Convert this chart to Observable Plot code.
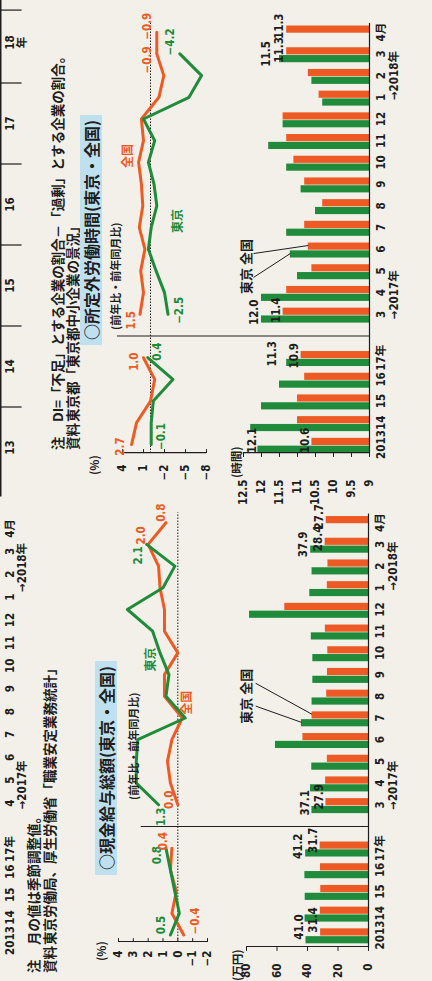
<!DOCTYPE html>
<html lang="ja"><head><meta charset="utf-8">
<script src="https://cdn.jsdelivr.net/npm/d3@7"></script>
<script src="https://cdn.jsdelivr.net/npm/@observablehq/plot@0.6"></script>
<style>
html,body{margin:0;padding:0;width:432px;height:981px;overflow:hidden;background:#f2f0e9;}
#page{position:absolute;left:0;top:0;width:981px;height:432px;transform-origin:0 0;transform:translate(0px,981px) rotate(-90deg);background:#f2f0e9;color:#1e1e1e;font-family:'Noto Sans CJK JP',sans-serif;}
#page svg{position:absolute;left:0;top:0;overflow:visible;}
.t{position:absolute;white-space:nowrap;line-height:1;font-weight:700;}
.note{font-size:13.5px;}
.title{font-size:16px;background:#bfe0ee;padding:3px 5px;}
.sub{font-size:11px;}
.unit{font-family:'Liberation Sans Narrow','Noto Sans CJK JP',sans-serif;font-size:11.5px;}
</style></head><body><div id="page"></div>
<script>
// ---------- data ----------
const catLabels = ["2013","14","15","16","17年","3","4","5","6","7","8","9","10","11","12","1","2","3","4月"];
const catSlots  = [0,1,2,3,4,6,7,8,9,10,11,12,13,14,15,16,17,18,19];
const eraLabels = ["→2017年","→2018年"];
const eraSlots  = [6.9,17];

// 現金給与総額 前年比・前年同月比 (%)
const wageRateTokyo   = [0.5,-0.1,0.2,0.5,0.8, 1.3,2.8,2.8,2.7,-0.5,0.8,0.6,1.2,1.7,3.4,1.0,0.2,2.1,null];
const wageRateZenkoku = [-0.4,0.4,0.1,0.5,0.4, 0.0,0.5,0.7,0.4,-0.3,0.9,0.9,0.0,0.9,0.9,1.2,1.3,2.0,0.8];
// 現金給与総額 (万円)
const wageTokyo   = [41.0,41.6,41.5,41.7,41.2, 37.1,38.0,37.2,61.0,44.0,37.0,36.5,36.5,37.5,78.0,38.5,37.0,37.9,null];
const wageZenkoku = [31.4,31.6,31.3,31.5,31.7, 27.9,28.1,27.0,43.0,37.0,27.4,26.9,26.7,28.3,54.9,27.0,26.6,28.4,27.7];
// 所定外労働時間 前年比・前年同月比 (%)
const otRateTokyo   = [-0.1,-0.1,-0.4,-3.2,0.4, -2.5,-2.0,-0.8,0.3,-0.1,-0.9,-0.5,0.3,-0.6,1.0,-5.5,-7.3,-4.2,null];
const otRateZenkoku = [2.7,2.0,0.0,-0.6,1.0, 1.5,1.0,1.4,0.8,1.6,1.1,1.3,1.7,1.0,1.3,-1.2,-1.9,-0.9,-0.9];
// 所定外労働時間 (時間)
const hoursTokyo   = [12.1,12.3,12.0,11.5,11.3, 12.0,12.0,11.0,11.2,11.3,10.5,10.9,11.3,11.8,11.4,10.3,10.6,11.5,null];
const hoursZenkoku = [10.6,11.0,11.0,10.8,10.9, 11.4,11.3,10.6,10.7,10.8,10.3,10.8,11.1,11.3,11.4,10.4,10.7,11.3,11.3];

// axis ticks
const ticksWageRate = [4,3,2,1,0,-1,-2];
const ticksWage = [80,60,40,20,0];
const ticksOtRate = [4,1,-2,-5,-8];
const ticksHours = [12.5,12,11.5,11,10.5,10,9.5,9];

// labels of the charts above (cut off)
const upperLabels = ["2013","14","15","16","17年","4","5","6","7","8","9","10","11","12","1","2","3","4月"];
const upperSlots  = [0,1,2,3,4,6,7,8,9,10,11,12,13,14,15,16,17,18];
const upperEra = ["→2017年","→2018年"];
const upperEraSlots = [6.8,16.3];
const diLabels = ["13","14","15","16","17","18"];
const diYears  = [2013,2014,2015,2016,2017,2018];

// ---------- helpers ----------
const G = "#1f8b3b", O = "#ee5a23", INK = "#1e1e1e";
const NUM = "'Liberation Sans Narrow','DejaVu Sans Condensed','Noto Sans CJK JP',sans-serif";
const JPF = "'Noto Sans CJK JP',sans-serif";
const page = document.getElementById("page");
const S = 21.7;
const xr = X0 => ({type:"linear", domain:[0,19], range:[X0, X0 + 19*S], axis:null});
const base = {width:981, height:432, margin:0, style:{background:"transparent", overflow:"visible", fontFamily:NUM}};
const fmt = d => d < 0 ? "−" + Math.abs(d) : String(d);
const fmt1 = d => d < 0 ? "−" + Math.abs(d).toFixed(1) : d.toFixed(1);
const rows = vals => vals.map((v,i) => ({s:catSlots[i], v, seg: i < 5 ? "a" : "m"})).filter(d => d.v != null);
const barRows = vals => vals.map((v,i) => ({s:catSlots[i], v})).filter(d => d.v != null);
const pick = (vals, specs) => specs.map(([i,dx,dy]) => ({s:catSlots[i], v:vals[i], dx, dy}));
function labelMarks(vals, specs, fill){
  return pick(vals, specs).map(d => Plot.text([d], {x:"s", y:"v", dx:d.dx, dy:d.dy, text:r=>fmt1(r.v), fill, fontWeight:700, fontSize:11.5, fontFamily:NUM}));
}
function add(el){ page.appendChild(el); }
function html(cls, txt, left, top, extra=""){
  const d = document.createElement("div"); d.className = "t " + cls; d.textContent = txt;
  d.style.cssText += `left:${left}px;top:${top}px;${extra}`; page.appendChild(d); return d;
}
const link = (a, opts={}) => Plot.link([a], {x1:"x1", y1:"y1", x2:"x2", y2:"y2", stroke:INK, strokeWidth:1, ...opts});

// ---------- chart A : 現金給与総額 前年比 ----------
const A0 = 45.5;
add(Plot.plot({...base, x:xr(A0), y:{domain:[-2,4], range:[207,118], axis:null}, marks:[
  Plot.ruleY([0], {x1:-0.3, x2:19.5, stroke:INK, strokeWidth:1, strokeDasharray:"1.5,1.5"}),
  Plot.ruleX([-0.3], {y1:-2, y2:4, stroke:INK, strokeWidth:1.2}),
  Plot.ruleY(ticksWageRate, {x1:-0.3, x2:-0.12, stroke:INK}),
  Plot.text(ticksWageRate, {x:-0.3, y:d=>d, dx:-9, text:fmt, textAnchor:"end", fontWeight:700, fontSize:11.5, fill:INK}),
  Plot.line(rows(wageRateZenkoku), {x:"s", y:"v", z:"seg", stroke:O, strokeWidth:3}),
  Plot.line(rows(wageRateTokyo), {x:"s", y:"v", z:"seg", stroke:G, strokeWidth:3}),
  ...labelMarks(wageRateTokyo, [[0,10,-9],[4,-7,-9],[5,-12,3],[17,-11,-8]], G),
  ...labelMarks(wageRateZenkoku, [[0,14,12],[4,7,-9],[5,5,-9],[17,9,-7],[18,10,-5]], O),
  Plot.text(["東京"], {x:12.7, y:1.8, text:d=>d, fill:G, fontWeight:700, fontSize:12, fontFamily:JPF}),
  Plot.text(["全国"], {x:10.7, y:-0.6, text:d=>d, fill:O, fontWeight:700, fontSize:12, fontFamily:JPF})
]}));

// ---------- chart B : 現金給与総額 万円 ----------
add(Plot.plot({...base, x:xr(A0), y:{domain:[0,80], range:[368,246], axis:null}, marks:[
  Plot.rect(barRows(wageTokyo), {x1:d=>d.s-0.36, x2:d=>d.s-0.03, y1:0, y2:"v", fill:G}),
  Plot.rect(barRows(wageZenkoku), {x1:d=>d.s, x2:d=>d.s+0.33, y1:0, y2:"v", fill:O}),
  Plot.ruleX([5], {y1:0, y2:149, stroke:INK, strokeWidth:1.2}),
  Plot.ruleY([0], {x1:-0.53, x2:19.45, stroke:INK, strokeWidth:1.2}),
  Plot.ruleX([-0.53], {y1:0, y2:80, stroke:INK, strokeWidth:1.2}),
  Plot.ruleY(ticksWage, {x1:-0.53, x2:-0.71, stroke:INK}),
  Plot.text(ticksWage, {x:-0.53, y:d=>d, dx:-17, text:fmt, textAnchor:"end", fontWeight:700, fontSize:11.5, fill:INK}),
  Plot.text(catLabels, {x:(d,i)=>catSlots[i], y:0, dy:12, text:d=>d, fontWeight:700, fontSize:11.5, fill:INK}),
  Plot.text(eraLabels, {x:(d,i)=>eraSlots[i], y:0, dy:25, text:d=>d, fontWeight:700, fontSize:11.5, fill:INK}),
  ...pick(wageTokyo, [[0,8,-7],[4,2,-7],[5,2,-7],[17,0,-7]]).map(d => Plot.text([d], {x:"s", y:"v", dx:d.dx, dy:d.dy, text:r=>fmt1(r.v), fill:INK, fontWeight:700, fontSize:11.5})),
  ...pick(wageZenkoku, [[0,15,-7],[4,8,-7],[5,8,-7],[17,6,-7],[18,6,-7]]).map(d => Plot.text([d], {x:"s", y:"v", dx:d.dx, dy:d.dy, text:r=>fmt1(r.v), fill:INK, fontWeight:700, fontSize:11.5})),
  Plot.text(["東京 全国"], {x:11, y:80, text:d=>d, fill:INK, fontWeight:700, fontSize:13, fontFamily:JPF}),
  link({x1:10.55, y1:74, x2:catSlots[9]-0.2, y2:wageTokyo[9]}),
  link({x1:11.6, y1:74, x2:catSlots[9]+0.17, y2:wageZenkoku[9]})
]}));

// ---------- chart C : 所定外労働時間 前年比 ----------
const C0 = 536;
add(Plot.plot({...base, x:xr(C0), y:{domain:[-8,4], range:[206,122], axis:null}, marks:[
  Plot.ruleY([0], {x1:-0.37, x2:19.5, stroke:INK, strokeWidth:1, strokeDasharray:"1.5,1.5"}),
  Plot.ruleX([-0.37], {y1:-8, y2:4, stroke:INK, strokeWidth:1.2}),
  Plot.ruleY(ticksOtRate, {x1:-0.37, x2:-0.19, stroke:INK}),
  Plot.text(ticksOtRate, {x:-0.37, y:d=>d, dx:-12, text:fmt, textAnchor:"end", fontWeight:700, fontSize:11.5, fill:INK}),
  Plot.line(rows(otRateZenkoku), {x:"s", y:"v", z:"seg", stroke:O, strokeWidth:3}),
  Plot.line(rows(otRateTokyo), {x:"s", y:"v", z:"seg", stroke:G, strokeWidth:3}),
  ...labelMarks(otRateZenkoku, [[0,-2,-11],[4,-4,-9],[5,-6,-9],[17,-6,-9],[18,6,-9]], O),
  ...labelMarks(otRateTokyo, [[0,8,10],[4,6,10],[5,4,11],[17,12,-10]], G),
  Plot.text(["全国"], {x:13.3, y:3.2, text:d=>d, fill:O, fontWeight:700, fontSize:12, fontFamily:JPF}),
  Plot.text(["東京"], {x:10.3, y:-4, text:d=>d, fill:G, fontWeight:700, fontSize:12, fontFamily:JPF})
]}));

// ---------- chart D : 所定外労働時間 時間 ----------
add(Plot.plot({...base, x:xr(C0), y:{domain:[9,12.5], range:[369,243], axis:null}, marks:[
  Plot.rect(barRows(hoursTokyo), {x1:d=>d.s-0.36, x2:d=>d.s-0.03, y1:9, y2:"v", fill:G}),
  Plot.rect(barRows(hoursZenkoku), {x1:d=>d.s, x2:d=>d.s+0.33, y1:9, y2:"v", fill:O}),
  Plot.ruleX([5], {y1:9, y2:16.0, stroke:INK, strokeWidth:1.2}),
  Plot.ruleY([9], {x1:-0.37, x2:19.45, stroke:INK, strokeWidth:1.2}),
  Plot.ruleX([-0.37], {y1:9, y2:12.5, stroke:INK, strokeWidth:1.2}),
  Plot.ruleY(ticksHours, {x1:-0.37, x2:-0.55, stroke:INK}),
  Plot.text(ticksHours, {x:-0.37, y:d=>d, dx:-27, text:d=>String(d), textAnchor:"end", fontWeight:700, fontSize:11.5, fill:INK}),
  Plot.text(catLabels, {x:(d,i)=>catSlots[i], y:9, dy:12, text:d=>d, fontWeight:700, fontSize:11.5, fill:INK}),
  Plot.text(eraLabels, {x:(d,i)=>eraSlots[i], y:9, dy:25, text:d=>d, fontWeight:700, fontSize:11.5, fill:INK}),
  ...pick(hoursTokyo, [[0,4,-6],[4,4,-14],[5,2,-7],[17,0,-13]]).map(d => Plot.text([d], {x:"s", y:"v", dx:d.dx, dy:d.dy, text:r=>fmt1(r.v), fill:INK, fontWeight:700, fontSize:11.5})),
  ...pick(hoursZenkoku, [[0,4,-7],[4,2,-7],[5,4,-7],[17,4,-7],[18,6,-7]]).map(d => Plot.text([d], {x:"s", y:"v", dx:d.dx, dy:d.dy, text:r=>fmt1(r.v), fill:INK, fontWeight:700, fontSize:11.5})),
  Plot.text(["東京 全国"], {x:8.2, y:12.4, text:d=>d, fill:INK, fontWeight:700, fontSize:13, fontFamily:JPF}),
  link({x1:7.7, y1:12.22, x2:catSlots[8]-0.2, y2:hoursTokyo[8]}),
  link({x1:8.8, y1:12.22, x2:catSlots[8]+0.17, y2:hoursZenkoku[8]})
]}));

// ---------- axes of the charts above (cut off) ----------
add(Plot.plot({...base, x:{type:"linear", domain:[0,18], range:[40,452], axis:null}, y:{domain:[0,1], range:[0,432], axis:null}, marks:[
  Plot.text(upperLabels, {x:(d,i)=>upperSlots[i], y:0, dy:10, text:d=>d, fontWeight:700, fontSize:11.5, fill:INK}),
  Plot.text(upperEra, {x:(d,i)=>upperEraSlots[i], y:0, dy:22, text:d=>d, fontWeight:700, fontSize:11.5, fill:INK})
]}));
add(Plot.plot({...base, x:{type:"linear", domain:[2013,2018], range:[533,938], axis:null}, y:{domain:[0,1], range:[0,432], axis:null}, marks:[
  Plot.ruleY([0], {x1:2012.4, x2:2018.55, stroke:INK, strokeWidth:2}),
  Plot.ruleX(diYears.slice(0,5).map(y=>y+0.5).concat([2018.4]), {y1:0, y2:0.05, stroke:INK, strokeWidth:1.2}),
  Plot.text(diLabels, {x:(d,i)=>diYears[i], y:0, dy:10, text:d=>d, fontWeight:700, fontSize:11.5, fill:INK}),
  Plot.text(["年"], {x:2018, y:0, dy:22, text:d=>d, fontWeight:700, fontSize:11.5, fill:INK})
]}));

// ---------- texts ----------
html("note","注",8,27); html("note","月の値は季節調整値。",36,27);
html("note","資料",8,43); html("note","東京労働局、厚生労働省「職業安定業務統計」",36,43);
html("note","注",531,51); html("note","DI=「不足」とする企業の割合－「過剰」とする企業の割合。",559,51);
html("note","資料",531,66); html("note","東京都「東京都中小企業の景況」",559,66);
html("title","○現金給与総額(東京・全国)",106,95);
html("sub","(前年比・前年同月比)",181,128);
html("title","○所定外労働時間(東京・全国)",636,80);
html("sub","(前年比・前年同月比)",651,110);
html("unit","(%)",20,96);
html("unit","(%)",506,89);
html("unit","(万円)",0,232);
html("unit","(時間)",503,231);
</script></body></html>
